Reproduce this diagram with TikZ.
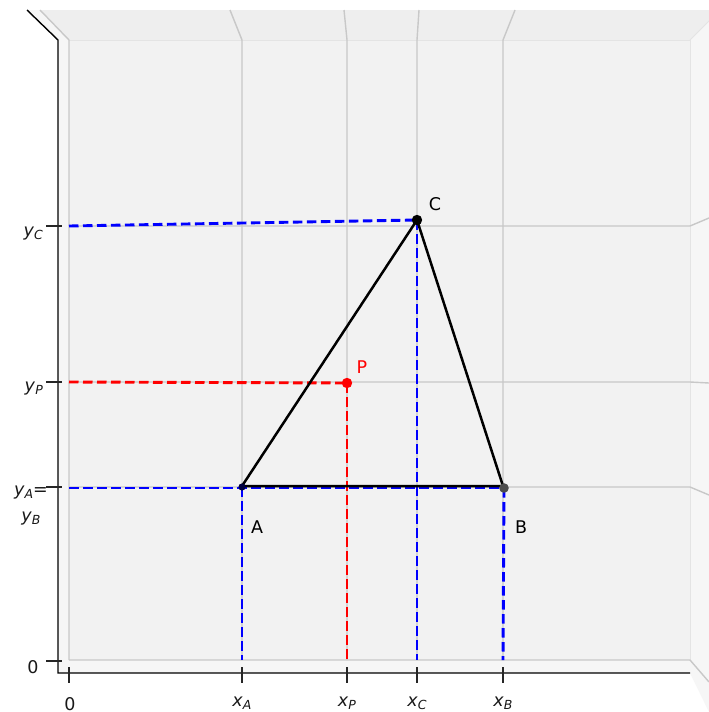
\documentclass[tikz,border=0pt]{standalone}
\usepackage{fontspec}
\setmainfont{DejaVu Sans}
\definecolor{paneback}{RGB}{242,242,242}
\definecolor{panetop}{RGB}{238,238,238}
\definecolor{paneside}{RGB}{246,246,246}
\definecolor{paneedge}{RGB}{228,228,228}
\definecolor{gridc}{RGB}{200,200,200}
\definecolor{projblue}{RGB}{0,0,255}
\definecolor{projred}{RGB}{255,0,0}
\newcommand\tlab[2]{\textit{#1}\raisebox{-2.6pt}{\fontsize{12.5}{13}\selectfont\itshape #2}}
\begin{document}
\begin{tikzpicture}[x=1pt,y=-1pt,
  gridline/.style={draw=gridc, line width=1.4},
  axisline/.style={draw=black, line width=1.4},
  tickline/.style={draw=black!85, line width=1.3},
  proj/.style={dash pattern=on 9.5pt off 4.5pt, line width=2.9},
  tri/.style={draw=black, line width=2.5},
  lbl/.style={font=\fontsize{17.5}{20}\selectfont, inner sep=0pt},
  ticklbl/.style={font=\fontsize{17.5}{20}\selectfont, inner sep=0pt, text=black!90},
]
\useasboundingbox (0,0) rectangle (709,712);
\fill[white] (0,0) rectangle (709,712);
% panes
\fill[paneside] (27,10) -- (40,10) -- (69,40) -- (69,660) -- (58,673) -- (58,40) -- cycle;
\fill[paneside] (58,660) -- (690,660) -- (690,673) -- (58,673) -- cycle;
\fill[paneside] (690,40) -- (720,10) -- (720,712) -- (709,712) -- (690,673) -- cycle;
\fill[panetop] (40,10) -- (720,10) -- (690,40) -- (69,40) -- cycle;
\fill[paneback] (69,40) rectangle (690,660);
\draw[draw=paneedge, line width=1] (69,40) -- (690,40) -- (690,660);
\draw[draw=paneedge, line width=1] (690,40) -- (720,10);
% gridlines: vertical
\draw[gridline] (40,10) -- (69,40) -- (69,660);
\draw[gridline] (230,10) -- (242,40) -- (242,660);
\draw[gridline] (344,10) -- (347,40) -- (347,660);
\draw[gridline] (419,10) -- (417,40) -- (417,660);
\draw[gridline] (515,10) -- (503,40) -- (503,660);
% gridlines: horizontal
\draw[gridline] (69,226) -- (690,226) -- (709,218);
\draw[gridline] (69,382) -- (690,382) -- (709,383);
\draw[gridline] (69,487) -- (690,487) -- (709,495);
\draw[gridline] (69,660) -- (690,660) -- (709,682);
% axes
\draw[axisline] (27,10) -- (58,40) -- (58,673) -- (690,673);
% ticks
\coordinate (ty0) at (58,661);
\coordinate (tyA) at (58,487);
\coordinate (tyP) at (58,382);
\coordinate (tyC) at (58,226);
\foreach \c in {ty0,tyA,tyP,tyC} \draw[tickline] ([xshift=-12pt]\c) -- ([xshift=4pt]\c);
\coordinate (tx0) at (69,673);
\coordinate (txA) at (242,673);
\coordinate (txP) at (347,673);
\coordinate (txC) at (417,673);
\coordinate (txB) at (503,673);
\foreach \c in {tx0,txA,txP,txC,txB} \draw[tickline] ([yshift=6pt]\c) -- ([yshift=-10pt]\c);
% points
\coordinate (A) at (242,487);
\coordinate (B) at (504,488);
\coordinate (C) at (417,220);
\coordinate (P) at (347,383);
\coordinate (lyC) at (69,226);
\coordinate (lyA) at (69,488);
\coordinate (lyP) at (69,382);
\coordinate (fA) at (242,660);
\coordinate (fB) at (503,660);
\coordinate (fC) at (417,660);
\coordinate (fP) at (347,660);
% projection lines
\draw[proj, projblue] (lyC) -- (C);
\draw[proj, projblue] (C) -- (fC);
\draw[proj, projblue] (lyA) -- (B);
\draw[proj, projblue] (A) -- (fA);
\draw[proj, projblue] (B) -- (fB);
\draw[proj, projred] (lyP) -- (P);
\draw[proj, projred] (P) -- (fP);
% triangle
\draw[tri, line join=round] (242,486) -- (503,486) -- (C) -- cycle;
% dots
\fill[black!75!blue] (A) circle (3.6);
\fill[black!70] (B) circle (4.8);
\fill[black] (C) circle (5.2);
\fill[projred] (P) circle (5.2);
% point labels
\node[lbl] (labC) at (435,204) {C};
\node[lbl, text=projred] (labP) at (362,367) {P};
\node[lbl] (labA) at (257,527) {A};
\node[lbl] (labB) at (521,527) {B};
% tick labels
\node[ticklbl] (lty0) at (33,667) {0};
\node[ticklbl, anchor=east] (ltyC) at (43,234) {\tlab{y}{C}};
\node[ticklbl, anchor=east] (ltyP) at (43,389) {\tlab{y}{P}};
\node[ticklbl] (ltyA) at (31,493) {\tlab{y}{A}=};
\node[ticklbl] (ltyB) at (31,519) {\tlab{y}{B}};
\node[ticklbl] (ltx0) at (70,704) {0};
\node[ticklbl] (ltxA) at (242,703) {\tlab{x}{A}};
\node[ticklbl] (ltxP) at (347,703) {\tlab{x}{P}};
\node[ticklbl] (ltxC) at (417,703) {\tlab{x}{C}};
\node[ticklbl] (ltxB) at (503,703) {\tlab{x}{B}};
\end{tikzpicture}
\end{document}
